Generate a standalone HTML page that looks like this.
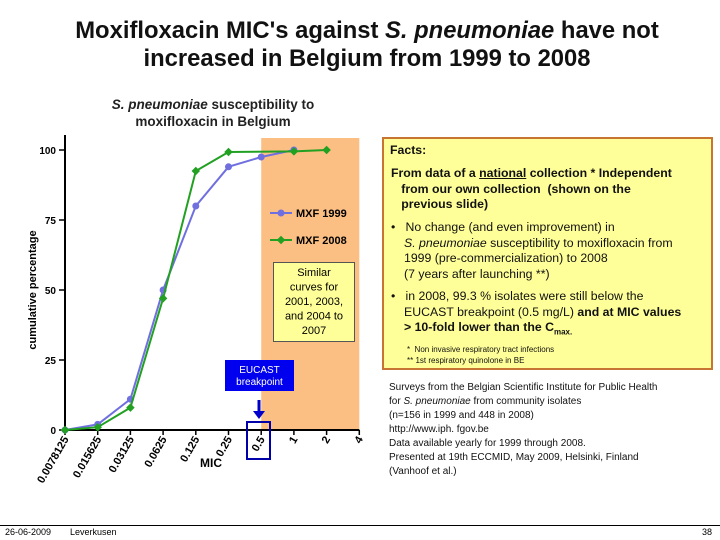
<!DOCTYPE html>
<html><head><meta charset="utf-8"><style>
body{margin:0;width:720px;height:540px;background:#fff;overflow:hidden;font-family:"Liberation Sans",sans-serif;position:relative}
.abs{position:absolute}
.ln{white-space:nowrap}
</style></head><body>
<div class="abs" style="left:0;top:17px;width:734px;text-align:center;font-weight:bold;font-size:23.8px;line-height:28px;color:#111">Moxifloxacin MIC's against <i>S. pneumoniae</i> have not<br>increased in Belgium from 1999 to 2008</div>
<div class="abs" style="left:80px;top:96px;width:266px;text-align:center;font-weight:bold;font-size:13.5px;line-height:17px;color:#222"><i>S. pneumoniae</i> susceptibility to<br>moxifloxacin in Belgium</div>
<svg class="abs" style="left:0;top:0" width="720" height="540" id="chart"></svg>
<div class="abs" style="left:382px;top:137px;width:327px;height:229px;background:#ffff99;border:2px solid #c87533;font-size:12.3px;line-height:15.7px;color:#111">
<div style="position:absolute;left:6px;top:4px;font-weight:bold">Facts:</div>
<div class="ln" style="position:absolute;left:7px;top:27px;font-weight:bold">From data of a <u>national</u> collection * Independent<br>&nbsp;&nbsp;&nbsp;from our own collection &nbsp;(shown on the<br>&nbsp;&nbsp;&nbsp;previous slide)</div>
<div class="ln" style="position:absolute;left:7px;top:81px">•&nbsp;&nbsp; No change (and even improvement) in<br><span style="padding-left:13px"><i>S. pneumoniae</i> susceptibility to moxifloxacin from</span><br><span style="padding-left:13px">1999 (pre-commercialization) to 2008</span><br><span style="padding-left:13px">(7 years after launching **)</span></div>
<div class="ln" style="position:absolute;left:7px;top:150px">•&nbsp;&nbsp; in 2008, 99.3 % isolates were still below the<br><span style="padding-left:13px">EUCAST breakpoint (0.5 mg/L) <b>and at MIC values</b></span><br><b style="padding-left:13px">&gt; 10-fold lower than the C<sub style="font-size:8px">max.</sub></b></div>
<div style="position:absolute;left:23px;top:205px;font-size:8px;line-height:11px">*&nbsp; Non invasive respiratory tract infections<br>**&nbsp;1st respiratory quinolone in BE</div>
</div>
<div class="abs" style="left:389px;top:381px;font-size:10px;line-height:14px;color:#111">Surveys from the Belgian Scientific Institute for Public Health<br>for <i>S. pneumoniae</i> from community isolates<br>(n=156 in 1999 and 448 in 2008)<br>http://www.iph. fgov.be<br>Data available yearly for 1999 through 2008.<br>Presented at 19th ECCMID, May 2009, Helsinki, Finland<br>(Vanhoof et al.)</div>
<div class="abs" style="left:0;top:525px;width:720px;height:1px;background:#000"></div>
<div class="abs" style="left:5px;top:527px;font-size:9px">26-06-2009</div>
<div class="abs" style="left:70px;top:527px;font-size:9px">Leverkusen</div>
<div class="abs" style="left:702px;top:527px;font-size:9px">38</div>
<script>
const categories=["0.0078125","0.015625","0.03125","0.0625","0.125","0.25","0.5","1","2","4"];
const mxf1999=[0,2,11,50,80,94,97.5,100,null,null];
const mxf2008=[0,1,8,47,92.5,99.3,null,99.5,100,null];
const yTicks=[0,25,50,75,100];
const NS="http://www.w3.org/2000/svg";
const svg=document.getElementById('chart');
const x0=65,dx=32.7,yb=430,ys=2.8;
const X=i=>x0+i*dx, Y=v=>yb-v*ys;
function el(t,a,p){const e=document.createElementNS(NS,t);for(const k in a)e.setAttribute(k,a[k]);(p||svg).appendChild(e);return e;}
let r=el('rect',{x:X(6),y:138,width:X(9)-X(6),height:yb-138,fill:'#fbbf84'});


el('line',{x1:x0,y1:135,x2:x0,y2:yb,stroke:'#000','stroke-width':2});
el('line',{x1:x0,y1:yb,x2:X(9),y2:yb,stroke:'#000','stroke-width':2});
yTicks.forEach(v=>{el('line',{x1:x0-6,y1:Y(v),x2:x0,y2:Y(v),stroke:'#000','stroke-width':1.5});
const t=el('text',{x:x0-9,y:Y(v)+4,'text-anchor':'end','font-size':10,'font-weight':'bold'});t.textContent=v;

});
categories.forEach((c,i)=>{el('line',{x1:X(i),y1:yb,x2:X(i),y2:yb+5,stroke:'#000','stroke-width':1.5});
const t=el('text',{x:X(i)+4,y:yb+9,'text-anchor':'end','font-size':11,'font-weight':'bold',transform:`rotate(-60 ${X(i)+4} ${yb+9})`});t.textContent=c;

});
const yl=el('text',{x:36,y:290,'text-anchor':'middle','font-size':11,'font-weight':'bold',transform:'rotate(-90 36 290)'});yl.textContent='cumulative percentage';


const xl=el('text',{x:211,y:467,'text-anchor':'middle','font-size':12,'font-weight':'bold'});xl.textContent='MIC';


function series(d,col,name,diamond){const pts=[];d.forEach((v,i)=>{if(v!==null)pts.push([X(i),Y(v)]);});
const pl=el('polyline',{points:pts.map(p=>p.join(',')).join(' '),fill:'none',stroke:col,'stroke-width':2});


pts.forEach(p=>{const m=diamond?el('rect',{x:p[0]-3,y:p[1]-3,width:6,height:6,fill:col,transform:`rotate(45 ${p[0]} ${p[1]})`}):el('circle',{cx:p[0],cy:p[1],r:3.5,fill:col});

});}
series(mxf1999,'#6f6fe0','line-mxf-1999',false);
series(mxf2008,'#22a022','line-mxf-2008',true);
el('line',{x1:270,y1:213,x2:292,y2:213,stroke:'#6f6fe0','stroke-width':2});el('circle',{cx:281,cy:213,r:3.5,fill:'#6f6fe0'});
let lt=el('text',{x:296,y:217,'font-size':11,'font-weight':'bold'});lt.textContent='MXF 1999';


el('line',{x1:270,y1:240,x2:292,y2:240,stroke:'#22a022','stroke-width':2});el('rect',{x:278,y:237,width:6,height:6,fill:'#22a022',transform:'rotate(45 281 240)'});
lt=el('text',{x:296,y:244,'font-size':11,'font-weight':'bold'});lt.textContent='MXF 2008';


el('rect',{x:273.5,y:262.5,width:81,height:79,fill:'#ffff99',stroke:'#555'});
['Similar','curves for','2001, 2003,','and 2004 to','2007'].forEach((s,i)=>{const t=el('text',{x:314,y:276+i*14.5,'text-anchor':'middle','font-size':11});t.textContent=s;

});
el('rect',{x:225,y:360,width:69,height:31,fill:'#0000ee'});
['EUCAST','breakpoint'].forEach((s,i)=>{const t=el('text',{x:259.5,y:373+i*12,'text-anchor':'middle','font-size':10,fill:'#fff'});t.textContent=s;

});
el('line',{x1:259,y1:400,x2:259,y2:412,stroke:'#0000cc','stroke-width':3});
el('polygon',{points:'253,411 265,411 259,419',fill:'#0000cc'});
el('rect',{x:247,y:422,width:23,height:37,fill:'none',stroke:'#0000aa','stroke-width':2});
</script>
</body></html>
